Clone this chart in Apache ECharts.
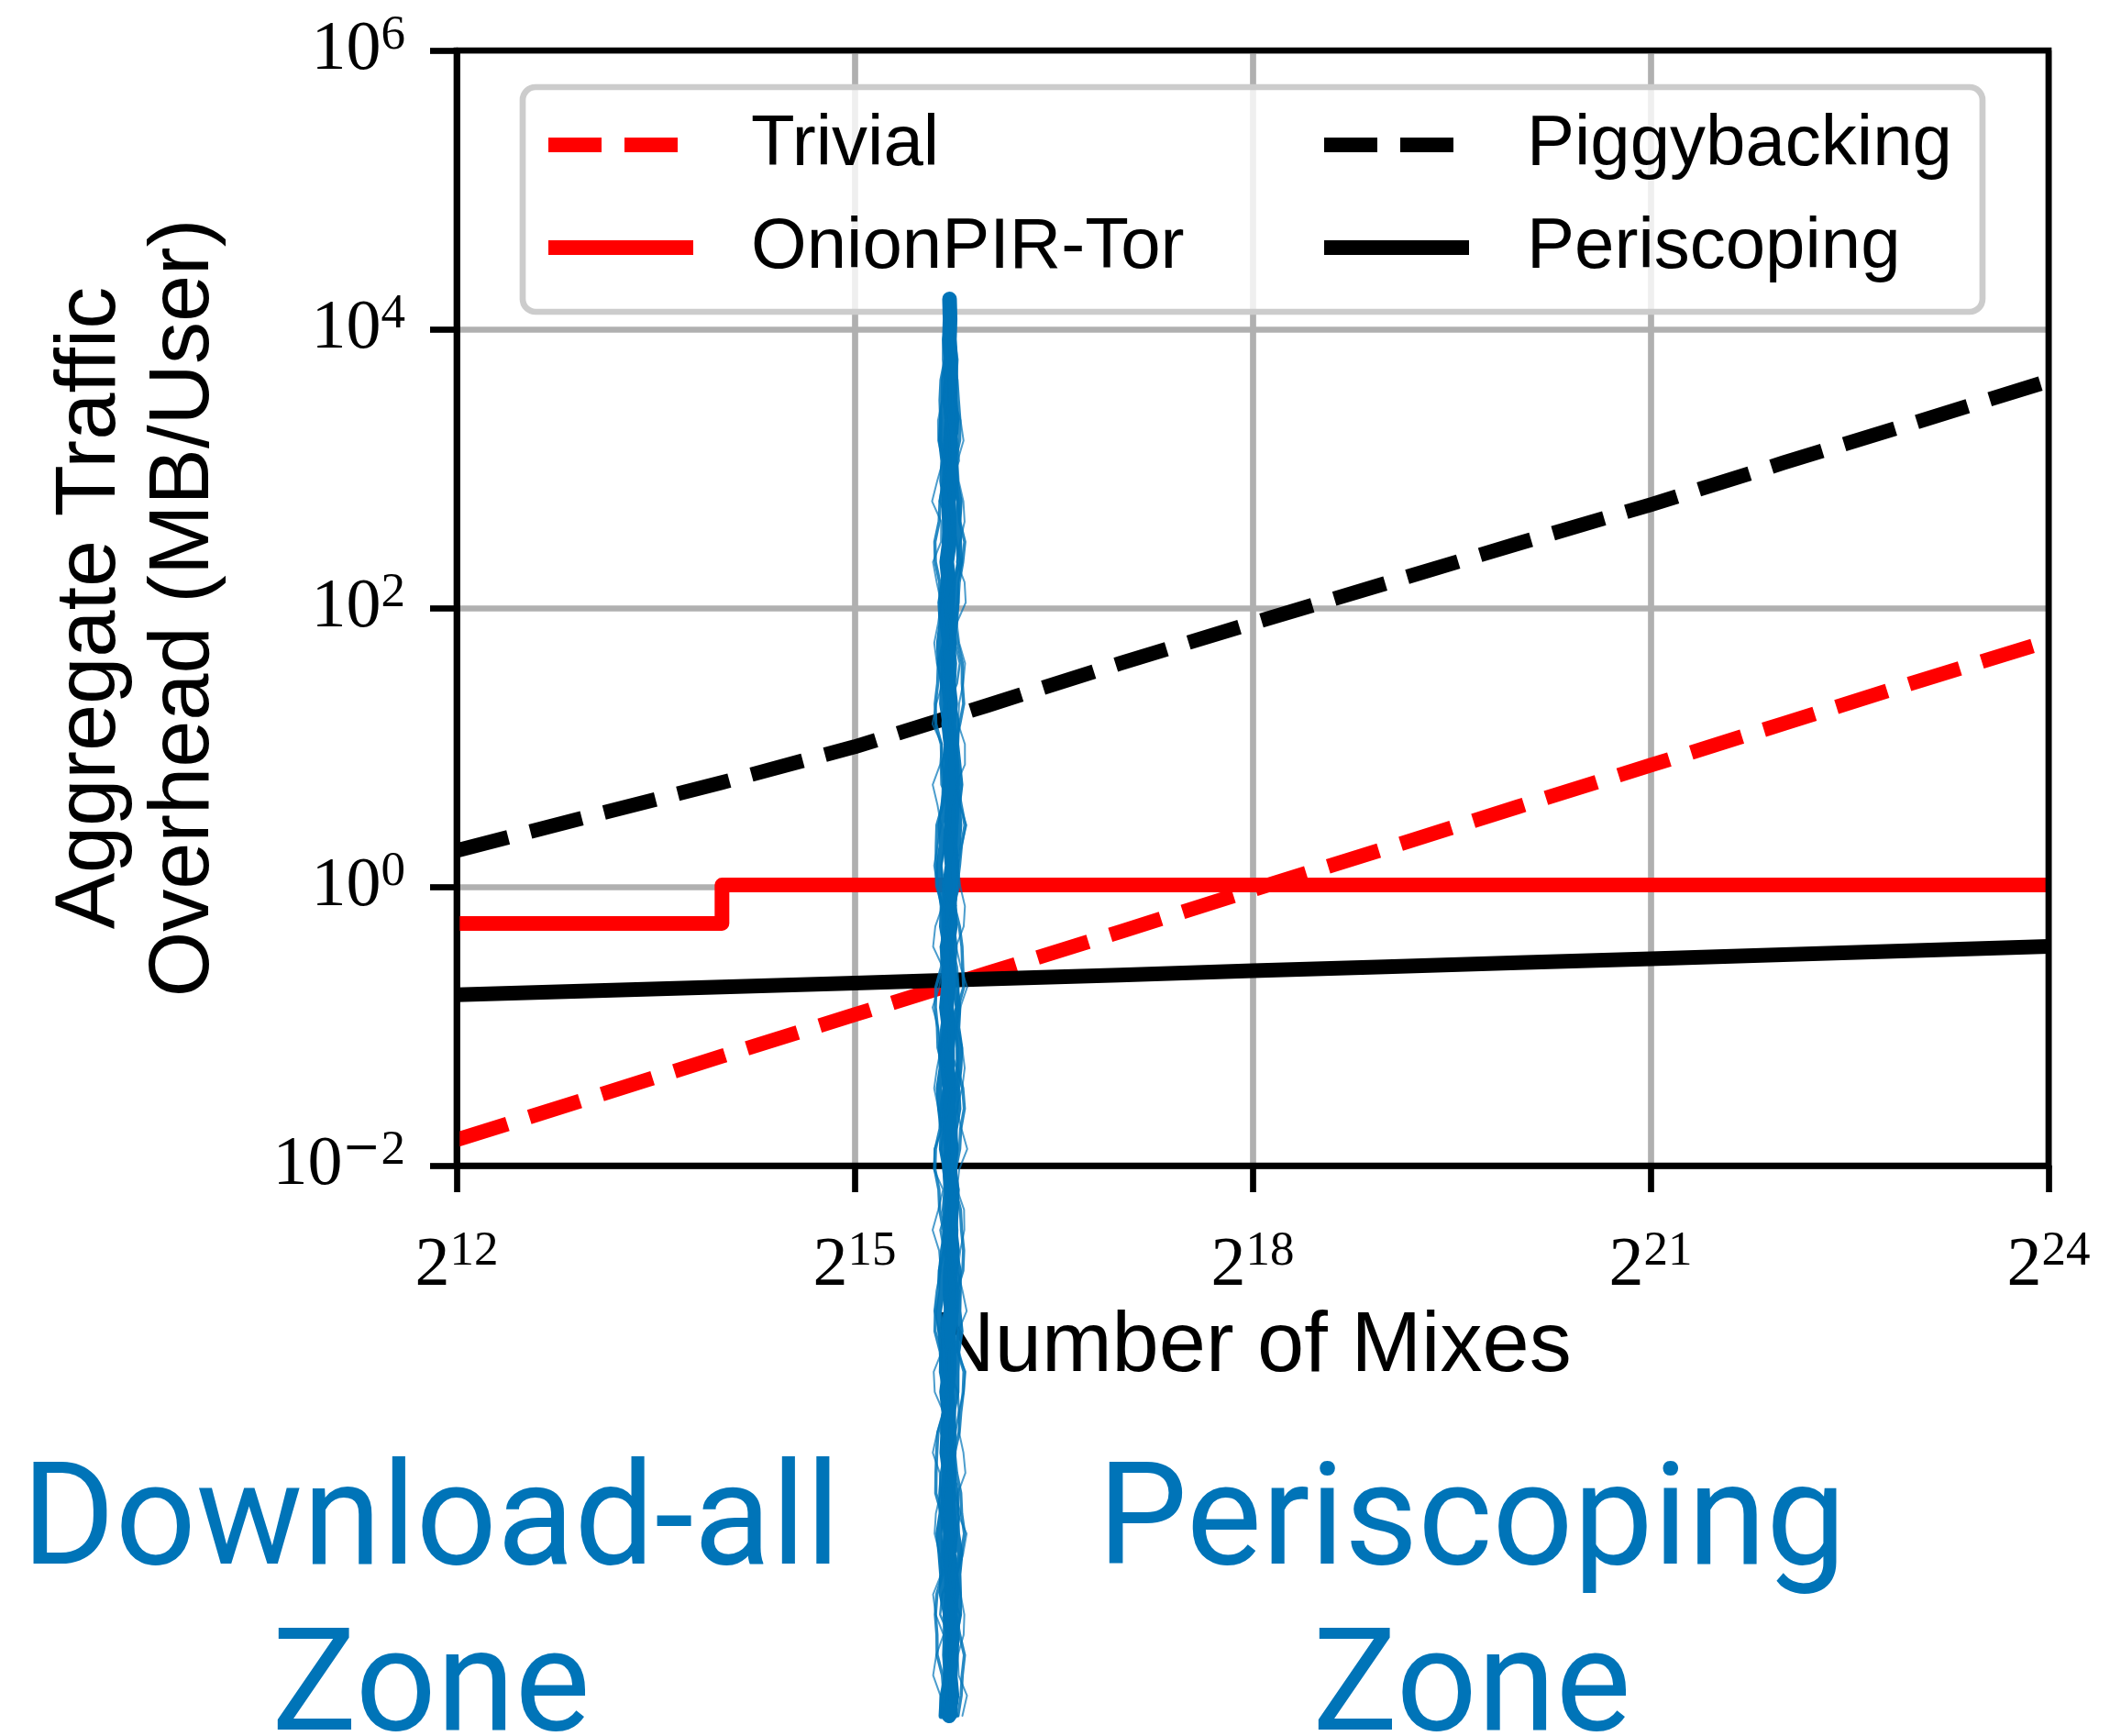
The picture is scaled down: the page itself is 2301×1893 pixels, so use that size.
<!DOCTYPE html>
<html><head><meta charset="utf-8">
<script src="https://cdn.jsdelivr.net/npm/echarts@6/dist/echarts.min.js"></script>
<style>html,body{margin:0;padding:0;background:#fff}#c{width:2301px;height:1893px}</style>
</head><body><div id="c"></div>
<script>
// ---- data ----
const mixes = [4096, 8192, 16384, 32768, 65536, 131072, 262144, 524288, 1048576, 2097152, 4194304, 8388608, 16777216];
const trivial = [0.0153, 0.0305, 0.061, 0.121, 0.24, 0.475, 0.95, 1.88, 3.75, 7.45, 14.8, 29.5, 58];
const piggybacking = [1.82, 3.2, 5.6, 10.1, 20, 40, 78, 150, 290, 551, 1100, 2150, 4250];
const periscoping = [0.168, 0.179, 0.191, 0.204, 0.218, 0.233, 0.25, 0.267, 0.285, 0.305, 0.326, 0.349, 0.373];
const onionMixes = [4096, 16384, 16384, 16777216];
const onionPIR = [0.546, 0.546, 1.03, 1.03];
const xTickExponents = [12, 15, 18, 21, 24];
const yTickExponents = [-2, 0, 2, 4, 6];
const crossoverMixes = 53800;      // where the blue scribble sits
const scribbleTopValue = 16500;    // top of the blue scribble (y value)
const zoneTexts = ['Download-all\nZone', 'Periscoping\nZone'];

const pairs = (xs, ys) => xs.map((x, i) => [x, ys[i]]);
const sup = (base, e) => '{b|' + base + '}' + (e < 0 ? '{m|\u2212}' : '') + '{s|' + Math.abs(e) + '}';
const richTick = {
  b: {fontFamily: 'Liberation Serif', fontSize: 76, lineHeight: 84, color: '#000'},
  m: {fontFamily: 'DejaVu Sans', fontSize: 50, lineHeight: 45, verticalAlign: 'top', color: '#000'},
  s: {fontFamily: 'Liberation Serif', fontSize: 53, lineHeight: 45, verticalAlign: 'top', color: '#000'}
};
const RED = '#ff0000', BLACK = '#000000', BLUE = '#0074B8';

const chart = echarts.init(document.getElementById('c'), null, {renderer: 'canvas'});
const option = {
  animation: false,
  backgroundColor: '#ffffff',
  grid: {left: 498, top: 55, width: 1736, height: 1216},
  xAxis: {
    type: 'log', logBase: 2, min: 4096, max: 16777216, interval: 3,
    axisLine: {show: true, lineStyle: {color: '#000', width: 6.7}},
    axisTick: {show: true, length: 29, lineStyle: {color: '#000', width: 6.7}},
    minorTick: {show: false},
    axisLabel: {
      margin: 68,
      formatter: v => { const e = Math.round(Math.log2(v)); return xTickExponents.includes(e) ? sup(2, e) : ''; },
      rich: richTick
    },
    splitLine: {show: true, lineStyle: {color: '#b0b0b0', width: 6.7}},
    name: 'Number of Mixes', nameLocation: 'middle', nameGap: 153,
    nameTextStyle: {fontFamily: 'Liberation Sans', fontSize: 92, color: '#000'}
  },
  yAxis: {
    type: 'log', logBase: 10, min: 0.01, max: 1e6, interval: 2,
    axisLine: {show: true, lineStyle: {color: '#000', width: 6.7}},
    axisTick: {show: true, length: 29, lineStyle: {color: '#000', width: 6.7}},
    minorTick: {show: false},
    axisLabel: {
      margin: 56,
      formatter: v => { const e = Math.round(Math.log10(v)); return yTickExponents.includes(e) ? sup(10, e) : ''; },
      rich: richTick
    },
    splitLine: {show: true, lineStyle: {color: '#b0b0b0', width: 6.7}},
    name: 'Aggregate Traffic\nOverhead (MB/User)', nameLocation: 'middle', nameRotate: 90, nameGap: 245,
    nameTextStyle: {fontFamily: 'Liberation Sans', fontSize: 92, lineHeight: 102, color: '#000'}
  },
  legend: {
    left: 570, top: 95, orient: 'horizontal', width: 1750,
    itemWidth: 158, itemHeight: 16, itemGap: 22,
    padding: [18, 33, 25, 20],
    borderColor: '#cccccc', borderWidth: 6.7, borderRadius: 14,
    backgroundColor: 'rgba(255,255,255,0.8)',
    itemStyle: {opacity: 0},
    textStyle: {fontFamily: 'Liberation Sans', fontSize: 78, color: '#000', lineHeight: 90, width: 595, padding: [0, 0, 0, 58]},
    lineStyle: {width: 16},
    data: [
      {name: 'Trivial'},
      {name: 'Piggybacking', textStyle: {width: 404}},
      {name: 'OnionPIR-Tor'},
      {name: 'Periscoping', textStyle: {width: 404}}
    ]
  },
  series: [
    {name: 'Trivial', type: 'line', data: pairs(mixes, trivial), symbol: 'none', color: RED,
     lineStyle: {color: RED, width: 16, type: [58, 25], join: 'round'}, z: 3},
    {name: 'OnionPIR-Tor', type: 'line', data: pairs(onionMixes, onionPIR), symbol: 'none', color: RED,
     lineStyle: {color: RED, width: 16, join: 'round'}, z: 3},
    {name: 'Piggybacking', type: 'line', data: pairs(mixes, piggybacking), symbol: 'none', color: BLACK,
     lineStyle: {color: BLACK, width: 16, type: [58, 25], join: 'round'}, z: 3},
    {name: 'Periscoping', type: 'line', data: pairs(mixes, periscoping), symbol: 'none', color: BLACK,
     lineStyle: {color: BLACK, width: 16, join: 'round'}, z: 3}
  ]
};
chart.setOption(option);

// ---- frame (all four spines) and annotations ----
const p0 = chart.convertToPixel({gridIndex: 0}, [4096, 0.01]);
const p1 = chart.convertToPixel({gridIndex: 0}, [16777216, 1e6]);
const sc = chart.convertToPixel({gridIndex: 0}, [crossoverMixes, scribbleTopValue]);
const scBottom = 1871;
// hand-drawn looking marker stroke: several wobbly strands around the crossover position
const strandDefs = [
  {w: 16, o: 1.0, a: 2.0, f: 0.31, ph: 0.0, off: 0},
  {w: 7, o: 0.95, a: 3.5, f: 0.57, ph: 1.3, off: -7},
  {w: 7, o: 0.95, a: 3.5, f: 0.49, ph: 2.1, off: 7},
  {w: 3.5, o: 0.85, a: 4.5, f: 0.83, ph: 0.7, off: -11},
  {w: 3.5, o: 0.85, a: 4.5, f: 0.91, ph: 2.9, off: 11},
  {w: 2.5, o: 0.8, a: 6.0, f: 1.37, ph: 4.1, off: -4},
  {w: 2.5, o: 0.8, a: 6.0, f: 1.19, ph: 5.3, off: 5},
  {w: 2, o: 0.7, a: 5.0, f: 1.73, ph: 0.4, off: -13},
  {w: 2, o: 0.7, a: 5.0, f: 1.61, ph: 3.3, off: 13}
];
const NP = 70;
const scribble = strandDefs.map(s => {
  const pts = [];
  for (let i = 0; i <= NP; i++) {
    const t = i / NP;
    const taper = Math.min(1, 0.25 + t * 6);
    const dx = taper * (s.off + s.a * Math.sin(i * s.f + s.ph) + 1.5 * Math.sin(i * 2.3 + s.ph * 1.7));
    pts.push([sc[0] + dx, sc[1] + (scBottom - sc[1]) * t]);
  }
  return {type: 'polyline', z: 200, silent: true, shape: {points: pts},
    style: {stroke: BLUE, lineWidth: s.w, opacity: s.o, fill: null, lineCap: 'round', lineJoin: 'round'}};
});
chart.setOption({
  graphic: [
    {type: 'rect', z: 100, silent: true,
     shape: {x: p0[0], y: p1[1], width: p1[0] - p0[0], height: p0[1] - p1[1]},
     style: {fill: null, stroke: '#000', lineWidth: 6.7}},
    ...scribble,
    {type: 'text', z: 200, style: {text: zoneTexts[0], x: 470, y: 1576, textAlign: 'center', textVerticalAlign: 'top',
      fontFamily: 'Roboto', fontSize: 155, lineHeight: 181, fill: BLUE}},
    {type: 'text', z: 200, style: {text: zoneTexts[1], x: 1605, y: 1576, textAlign: 'center', textVerticalAlign: 'top',
      fontFamily: 'Roboto', fontSize: 155, lineHeight: 181, fill: BLUE}}
  ]
});
</script></body></html>
